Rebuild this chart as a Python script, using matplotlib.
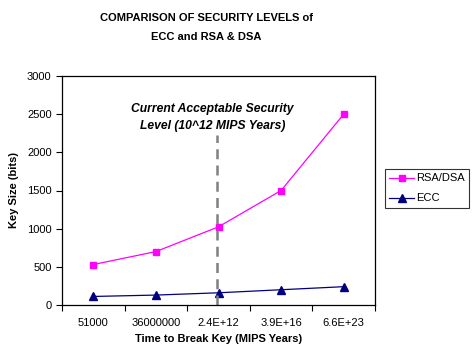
import matplotlib.pyplot as plt

plt.rcParams['font.family'] = ['Liberation Sans', 'DejaVu Sans']

# data
categories = ["51000", "36000000", "2.4E+12", "3.9E+16", "6.6E+23"]
rsa_dsa = [530, 700, 1024, 1500, 2500]
ecc = [112, 130, 160, 200, 240]
y_ticks = [0, 500, 1000, 1500, 2000, 2500, 3000]

fig = plt.figure(figsize=(4.76, 3.6), dpi=100)
ax = fig.add_axes([62 / 476, 1 - 305 / 360, 313 / 476, 229 / 360])

xs = [i + 0.5 for i in range(len(categories))]
ax.plot(xs, rsa_dsa, color="#FF00FF", lw=0.9, marker="s", ms=5,
        label="RSA/DSA", clip_on=False)
ax.plot(xs, ecc, color="#000080", lw=0.9, marker="^", ms=5.5,
        label="ECC", clip_on=False)

# current acceptable level line
ax.axvline(2.47, ymin=0, ymax=0.742, color="#808080", lw=1.8, ls=(0, (4, 2.5)))
ax.text(2.4, 2570, "Current Acceptable Security", ha="center", va="center",
        fontsize=8.7, fontweight="bold", style="italic")
ax.text(2.4, 2350, "Level (10^12 MIPS Years)", ha="center", va="center",
        fontsize=8.7, fontweight="bold", style="italic")

ax.set_xlim(0, 5)
ax.set_ylim(0, 3000)
ax.set_yticks(y_ticks)
ax.set_yticklabels([str(v) for v in y_ticks], fontsize=8)
ax.set_xticks(range(6))
ax.set_xticklabels([])
ax.set_xticks(xs, minor=True)
ax.set_xticklabels(categories, minor=True, fontsize=8)
ax.tick_params(axis="x", which="minor", length=0, pad=9)
ax.tick_params(axis="both", which="major", direction="out", length=4, width=0.8)
for s in ax.spines.values():
    s.set_linewidth(0.9)

ax.set_xlabel("Time to Break Key (MIPS Years)", fontsize=8, fontweight="bold",
              labelpad=5)
ax.set_ylabel("Key Size (bits)", fontsize=8, fontweight="bold", labelpad=6)

fig.text(206 / 476, 1 - 18 / 360, "COMPARISON OF SECURITY LEVELS of",
         ha="center", va="center", fontsize=8, fontweight="bold")
fig.text(206 / 476, 1 - 37 / 360, "ECC and RSA & DSA",
         ha="center", va="center", fontsize=8, fontweight="bold")

leg = ax.legend(loc="upper left", bbox_to_anchor=(385 / 476, 1 - 169 / 360),
                bbox_transform=fig.transFigure, fontsize=8, frameon=True,
                fancybox=False, edgecolor="black", handlelength=2.2,
                borderpad=0.4, labelspacing=0.9, handletextpad=0.2,
                borderaxespad=0)
leg.get_frame().set_linewidth(0.8)

fig.savefig("out.png", dpi=100)
